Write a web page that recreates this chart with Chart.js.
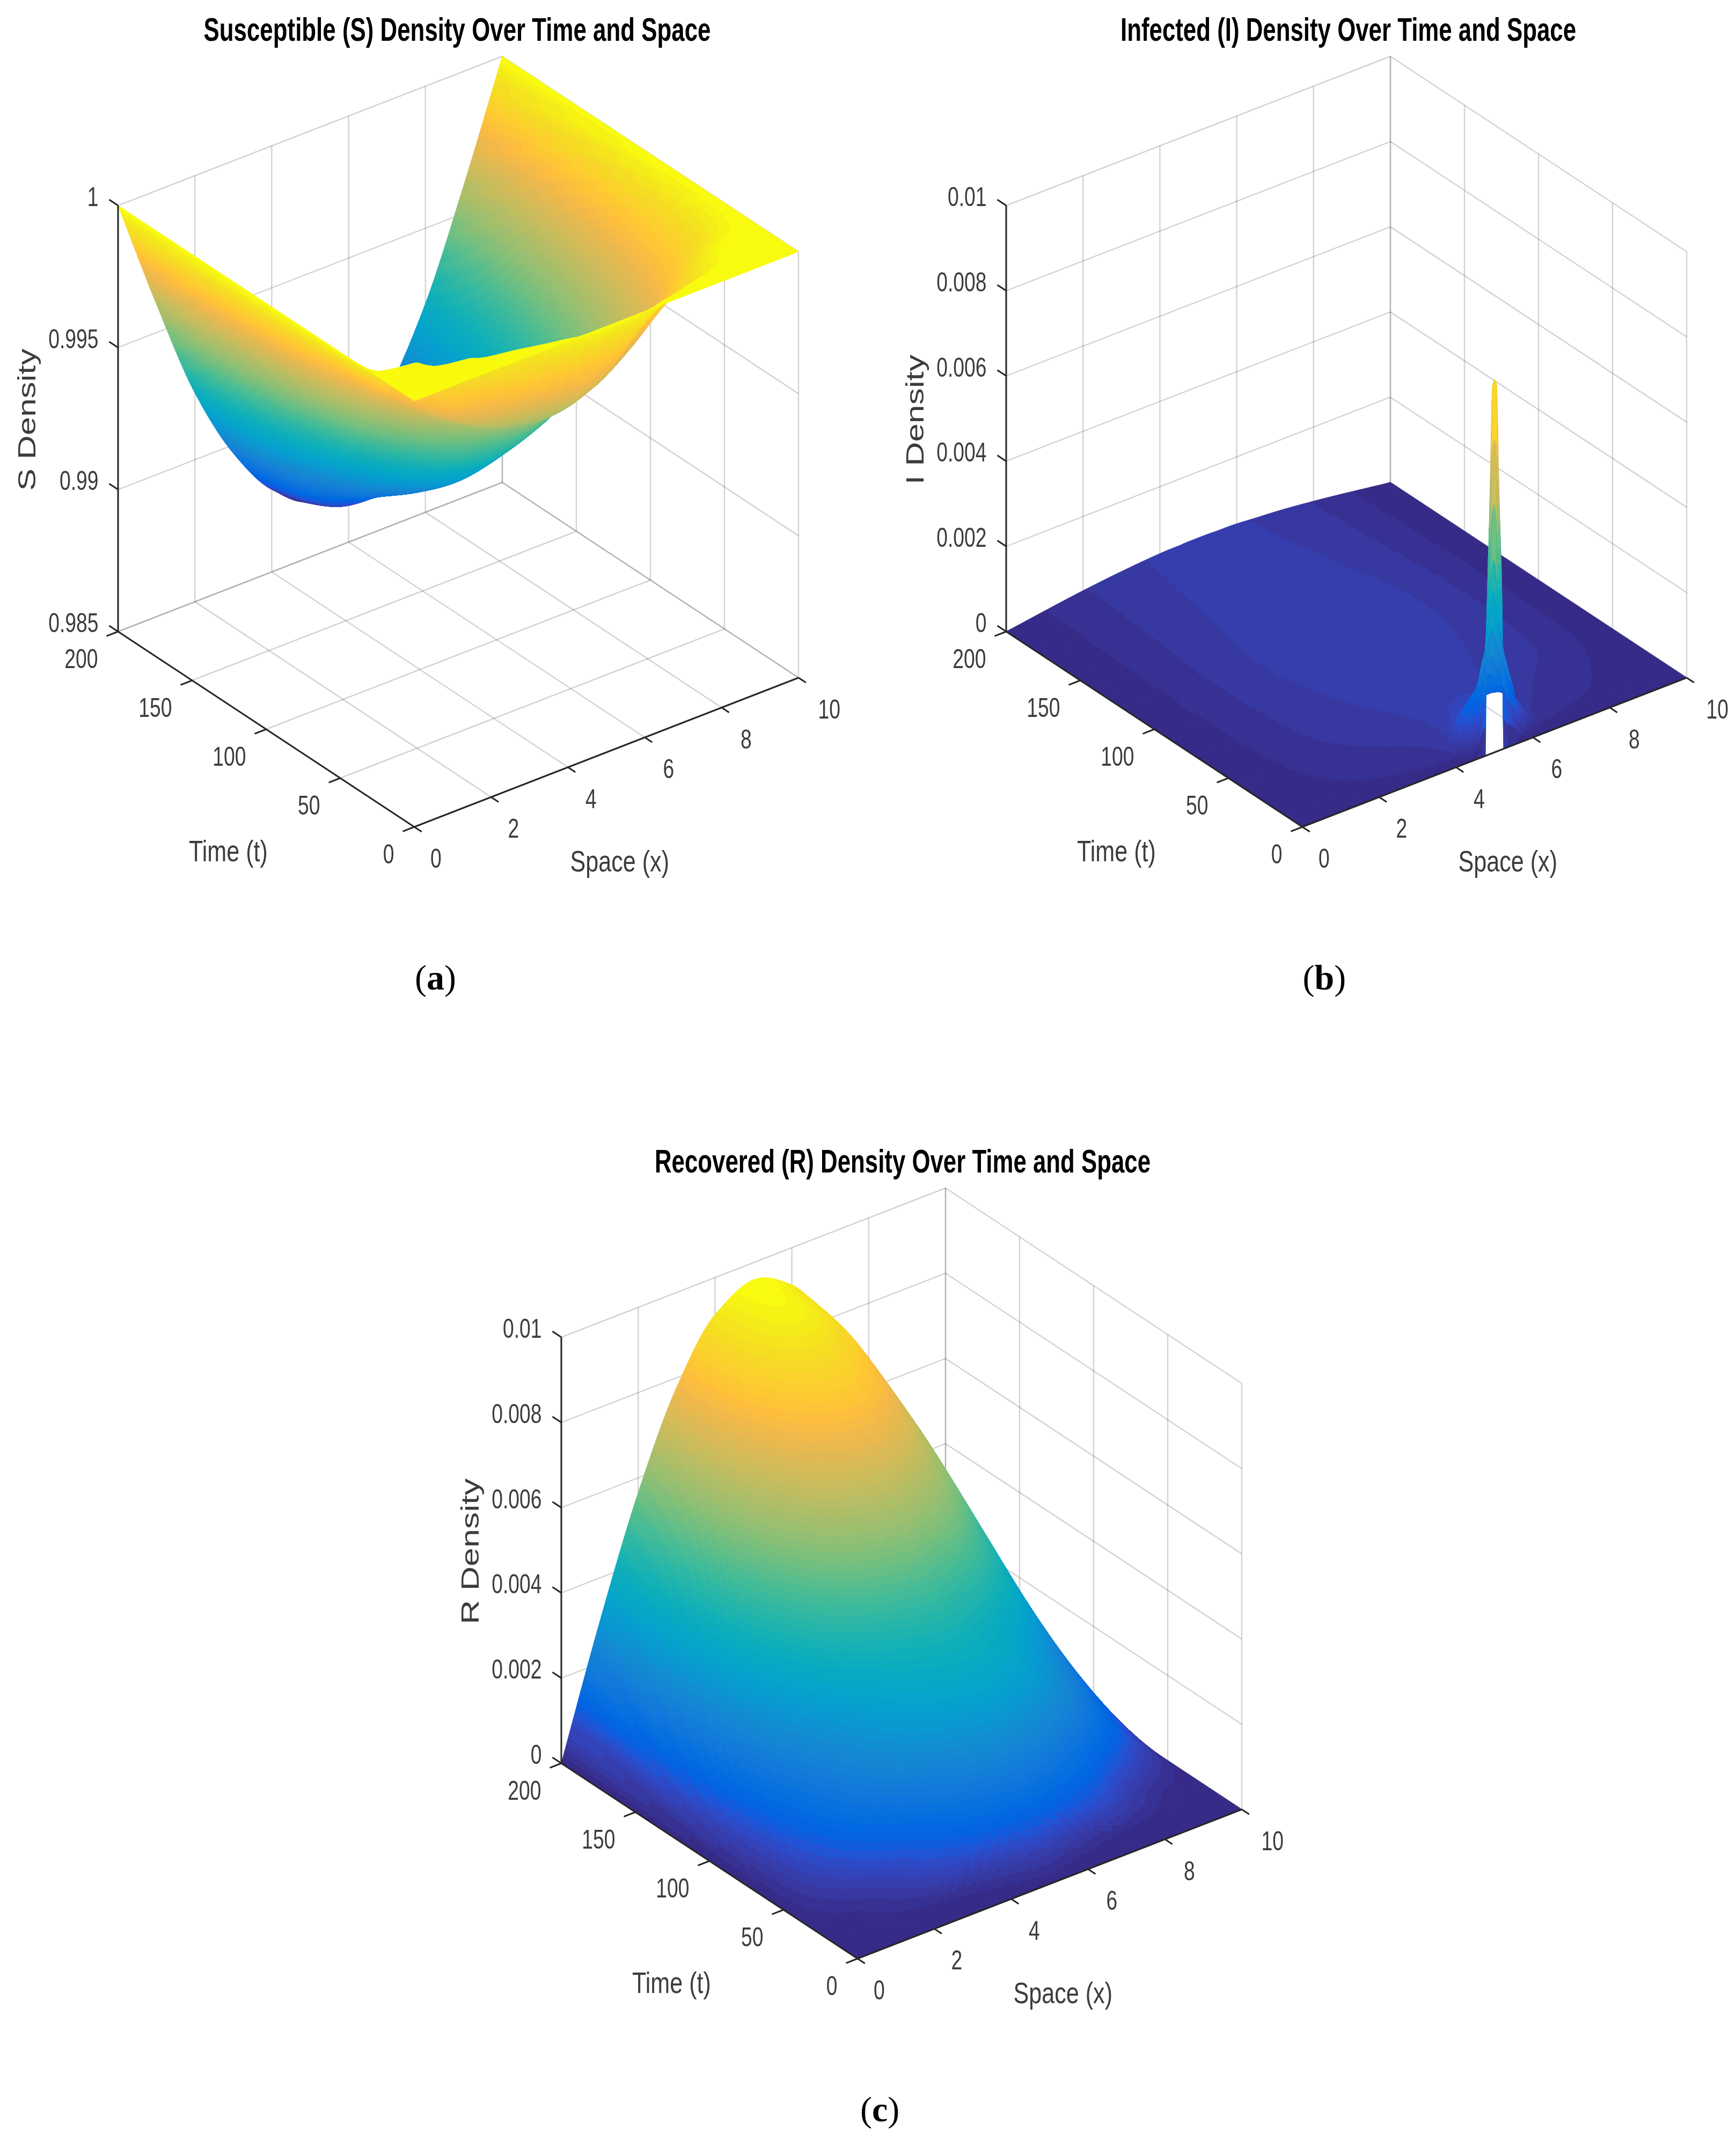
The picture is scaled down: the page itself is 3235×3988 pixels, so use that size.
<!DOCTYPE html>
<html>
<head>
<meta charset="utf-8">
<title>S I R density surfaces</title>
<style>
  html, body { margin: 0; padding: 0; background: #fff; }
  #page { position: relative; width: 3235px; height: 3988px; overflow: hidden; }
  canvas { position: absolute; }
</style>
<script src="https://cdn.jsdelivr.net/npm/chart.js@4/dist/chart.umd.min.js"></script>
</head>
<body>
<div id="page">
  <canvas id="panelS" width="1640" height="1880" style="left:0;top:0"></canvas>
  <canvas id="panelI" width="1580" height="1880" style="left:1655px;top:0"></canvas>
  <canvas id="panelR" width="1640" height="1879" style="left:826px;top:2109px"></canvas>
</div>
<script>
// axis ticks
const xTicks = [0, 2, 4, 6, 8, 10];
const tTicks = [0, 50, 100, 150, 200];
const xTickLabels = ['0', '2', '4', '6', '8', '10'];
const tTickLabels = ['0', '50', '100', '150', '200'];
const sTicks = [0.985, 0.99, 0.995, 1];
const sTickLabels = ['0.985', '0.99', '0.995', '1'];
const densityTicks = [0, 0.002, 0.004, 0.006, 0.008, 0.01];
const densityTickLabels = ['0', '0.002', '0.004', '0.006', '0.008', '0.01'];

// grid the S and R surfaces were read on
const xNodes = [0, 1, 2, 3, 4, 5, 6, 7, 8, 9, 10];
const tNodes = [0, 5, 10, 15, 20, 25, 35, 50, 75, 100, 125, 150, 175, 200];

// one row per tNodes entry
const sValues = [
  [1, 1, 1, 1, 1, 1, 1, 1, 1, 1, 1],
  [1, 1, 1, 1, 0.99985, 0.9995, 0.99965, 0.9999, 1, 1, 1],
  [1, 1, 0.99999, 0.99985, 0.999, 0.9984, 0.9988, 0.99955, 0.9999, 1, 1],
  [1, 1, 0.99992, 0.9986, 0.9977, 0.9974, 0.9981, 0.99925, 0.9996, 1, 1],
  [1, 0.99997, 0.9991, 0.9977, 0.9971, 0.9968, 0.9975, 0.99895, 0.9992, 0.99997, 1],
  [1, 0.99994, 0.9979, 0.9971, 0.9966, 0.9964, 0.9970, 0.9984, 0.9989, 0.9999, 1],
  [1, 0.9989, 0.9973, 0.9964, 0.9959, 0.9957, 0.9961, 0.9970, 0.9983, 0.9995, 1],
  [1, 0.9983, 0.9969, 0.9959, 0.9951, 0.9948, 0.9952, 0.9960, 0.9971, 0.9987, 1],
  [1, 0.9979, 0.9960, 0.9944, 0.9932, 0.9928, 0.9932, 0.9945, 0.9960, 0.9979, 1],
  [1, 0.99735, 0.99495, 0.9930, 0.9917, 0.9911, 0.9917, 0.9930, 0.99495, 0.99735, 1],
  [1, 0.9969, 0.9941, 0.9919, 0.9905, 0.9899, 0.9905, 0.9919, 0.9941, 0.9969, 1],
  [1, 0.9965, 0.9933, 0.9909, 0.9894, 0.9889, 0.9894, 0.9909, 0.9933, 0.9965, 1],
  [1, 0.99615, 0.9927, 0.9901, 0.9884, 0.9877, 0.9884, 0.9901, 0.9927, 0.99615, 1],
  [1, 0.9960, 0.99235, 0.9897, 0.9879, 0.9870, 0.9879, 0.9897, 0.99235, 0.9960, 1]
];

const rValues = [
  [0, 0, 0, 0, 0, 0, 0, 0, 0, 0, 0],
  [0, 0, 0, 0.00001, 0.0001, 0.0003, 0.0001, 0.00001, 0, 0, 0],
  [0, 0, 0.00002, 0.00012, 0.00045, 0.0008, 0.00045, 0.00012, 0.00002, 0, 0],
  [0, 0.00003, 0.0002, 0.0007, 0.0011, 0.0013, 0.0011, 0.0007, 0.0002, 0.00003, 0],
  [0, 0.00007, 0.0004, 0.001, 0.0015, 0.0018, 0.0015, 0.001, 0.0004, 0.00007, 0],
  [0, 0.00012, 0.00055, 0.0013, 0.0019, 0.0022, 0.0019, 0.0013, 0.00055, 0.00012, 0],
  [0, 0.0004, 0.0011, 0.0019, 0.0026, 0.0029, 0.0026, 0.0019, 0.0011, 0.0004, 0],
  [0, 0.0009, 0.0019, 0.0028, 0.0034, 0.0036, 0.0034, 0.0028, 0.0019, 0.0009, 0],
  [0, 0.0014, 0.00265, 0.00365, 0.0043, 0.00455, 0.0043, 0.00365, 0.00265, 0.0014, 0],
  [0, 0.0019, 0.0036, 0.005, 0.00585, 0.00615, 0.00585, 0.005, 0.0036, 0.0019, 0],
  [0, 0.00237, 0.0045, 0.0062, 0.0073, 0.0077, 0.0073, 0.0062, 0.0045, 0.00237, 0],
  [0, 0.0027, 0.00515, 0.00705, 0.0083, 0.00874, 0.0083, 0.00705, 0.00515, 0.0027, 0],
  [0, 0.0029, 0.0055, 0.0076, 0.00895, 0.0094, 0.00895, 0.0076, 0.0055, 0.0029, 0],
  [0, 0.00297, 0.00565, 0.00777, 0.00913, 0.0096, 0.00913, 0.00777, 0.00565, 0.00297, 0]
];

// I has a narrow spike at x = 5, t = 0 so its grid is tighter there
const iXNodes = [0, 2, 3, 4, 4.3, 4.5, 4.7, 4.76, 4.8, 4.88, 4.945, 5, 5.055, 5.12, 5.2, 5.24, 5.5, 5.7, 6, 6.4, 7, 8, 10];
const iTNodes = [0, 1, 5, 10, 20, 30, 50, 75, 100, 150, 200];
// in units of 0.001
const iValues = [
  [0, 0, 0, 0, 0, 0, 0, 0, 3.2, 6.0, 8.6, 8.75, 8.6, 6.0, 3.4, 0, 0, 0, 0, 0, 0, 0, 0],
  [0, 0.03, 0.05, 0.1, 0.3, 0.6, 1.9, 2.3, 2.5, 3.2, 3.6, 3.8, 3.6, 3.2, 2.6, 2.4, 1.4, 0.6, 0.1, 0.03, 0.02, 0.01, 0],
  [0, 0.1, 0.14, 0.3, 0.9, 1.2, 1.45, 1.45, 1.45, 1.4, 1.37, 1.35, 1.34, 1.32, 1.28, 1.25, 1.15, 0.95, 0.5, 0.18, 0.12, 0.08, 0],
  [0, 0.13, 0.18, 0.32, 0.6, 0.85, 1.05, 1.05, 1.05, 1.05, 1.05, 1.05, 1.06, 1.08, 1.08, 1.08, 1.05, 0.95, 0.55, 0.25, 0.17, 0.12, 0],
  [0, 0.18, 0.25, 0.36, 0.44, 0.5, 0.58, 0.6, 0.62, 0.64, 0.65, 0.66, 0.67, 0.68, 0.7, 0.72, 0.72, 0.72, 0.6, 0.35, 0.24, 0.16, 0],
  [0, 0.22, 0.3, 0.4, 0.44, 0.46, 0.5, 0.51, 0.52, 0.53, 0.53, 0.54, 0.54, 0.54, 0.55, 0.55, 0.54, 0.53, 0.48, 0.37, 0.29, 0.2, 0],
  [0, 0.27, 0.37, 0.44, 0.46, 0.47, 0.47, 0.47, 0.47, 0.47, 0.47, 0.47, 0.47, 0.47, 0.47, 0.47, 0.47, 0.46, 0.44, 0.41, 0.37, 0.27, 0],
  [0, 0.29, 0.4, 0.47, 0.49, 0.49, 0.5, 0.5, 0.5, 0.5, 0.5, 0.5, 0.5, 0.5, 0.5, 0.5, 0.49, 0.49, 0.47, 0.44, 0.4, 0.29, 0],
  [0, 0.3, 0.42, 0.49, 0.51, 0.51, 0.52, 0.52, 0.52, 0.52, 0.52, 0.52, 0.52, 0.52, 0.52, 0.52, 0.51, 0.51, 0.49, 0.46, 0.42, 0.3, 0],
  [0, 0.28, 0.39, 0.46, 0.47, 0.47, 0.48, 0.48, 0.48, 0.48, 0.48, 0.48, 0.48, 0.48, 0.48, 0.48, 0.47, 0.47, 0.46, 0.43, 0.39, 0.28, 0],
  [0, 0.26, 0.36, 0.43, 0.44, 0.44, 0.45, 0.45, 0.45, 0.45, 0.45, 0.45, 0.45, 0.45, 0.45, 0.45, 0.44, 0.44, 0.43, 0.4, 0.36, 0.26, 0]
];
const iUnit = 0.001;

const parula = [
  [.2081,.1663,.5292],[.2116,.1898,.5777],[.2123,.2138,.6270],[.2081,.2386,.6771],
  [.1959,.2645,.7279],[.1707,.2919,.7792],[.1253,.3242,.8303],[.0591,.3598,.8683],
  [.0117,.3875,.8820],[.0060,.4086,.8828],[.0165,.4266,.8786],[.0329,.4430,.8720],
  [.0498,.4586,.8641],[.0629,.4737,.8554],[.0723,.4887,.8467],[.0779,.5040,.8384],
  [.0793,.5200,.8312],[.0749,.5375,.8263],[.0641,.5570,.8240],[.0488,.5772,.8228],
  [.0343,.5966,.8199],[.0265,.6137,.8135],[.0239,.6287,.8038],[.0231,.6418,.7913],
  [.0228,.6535,.7768],[.0267,.6642,.7607],[.0384,.6743,.7436],[.0590,.6838,.7254],
  [.0843,.6928,.7062],[.1133,.7015,.6859],[.1453,.7098,.6646],[.1801,.7177,.6424],
  [.2178,.7250,.6193],[.2586,.7317,.5954],[.3022,.7376,.5712],[.3482,.7424,.5473],
  [.3953,.7459,.5244],[.4420,.7481,.5033],[.4871,.7491,.4840],[.5300,.7491,.4661],
  [.5709,.7485,.4494],[.6099,.7473,.4337],[.6473,.7456,.4188],[.6834,.7435,.4044],
  [.7184,.7411,.3905],[.7525,.7384,.3768],[.7858,.7356,.3633],[.8185,.7327,.3498],
  [.8507,.7299,.3360],[.8824,.7274,.3217],[.9139,.7258,.3063],[.9450,.7261,.2886],
  [.9739,.7314,.2666],[.9938,.7455,.2403],[.9990,.7653,.2164],[.9955,.7861,.1967],
  [.9880,.8066,.1794],[.9789,.8271,.1633],[.9697,.8481,.1475],[.9626,.8705,.1309],
  [.9589,.8949,.1132],[.9598,.9218,.0948],[.9661,.9514,.0755],[.9763,.9831,.0538]
];
const parulaCss = parula.map(c => `rgb(${Math.round(c[0]*255)},${Math.round(c[1]*255)},${Math.round(c[2]*255)})`);

const xMax = 10, tMax = 200;
// the oblique view of the MATLAB box, in scale units
const view = { ox: 772, oy: 1541, xx: 716, xy: -278, tx: -552, ty: -364, zy: 794 };

function project(x, t, zFrac) {
  return {
    x: view.ox + x / xMax * view.xx + t / tMax * view.tx,
    y: view.oy + x / xMax * view.xy + t / tMax * view.ty - zFrac * view.zy
  };
}

// monotone cubic through the read nodes, only used to shade between them
function shadeCurve(xs, ys) {
  const n = xs.length, h = [], dl = [], d = new Array(n);
  for (let i = 0; i < n - 1; i++) {
    h[i] = xs[i + 1] - xs[i];
    dl[i] = (ys[i + 1] - ys[i]) / h[i];
  }
  d[0] = dl[0];
  d[n - 1] = dl[n - 2];
  for (let i = 1; i < n - 1; i++) {
    if (dl[i - 1] * dl[i] <= 0) { d[i] = 0; continue; }
    const w1 = 2 * h[i] + h[i - 1], w2 = h[i] + 2 * h[i - 1];
    d[i] = (w1 + w2) / (w1 / dl[i - 1] + w2 / dl[i]);
  }
  return q => {
    let i = 0;
    while (i < n - 2 && q > xs[i + 1]) i++;
    const s = (q - xs[i]) / h[i], s2 = s * s, s3 = s2 * s;
    return (2*s3 - 3*s2 + 1) * ys[i] + (s3 - 2*s2 + s) * h[i] * d[i]
      + (-2*s3 + 3*s2) * ys[i + 1] + (s3 - s2) * h[i] * d[i + 1];
  };
}

function fineNodes(nodes, step) {
  const out = [];
  for (let i = 0; i < nodes.length - 1; i++) {
    const n = Math.max(4, Math.ceil((nodes[i + 1] - nodes[i]) / step));
    for (let k = 0; k < n; k++) out.push(nodes[i] + (nodes[i + 1] - nodes[i]) * k / n);
  }
  out.push(nodes[nodes.length - 1]);
  return out;
}

// draws a z grid as a shaded sheet, far cells first
class SurfaceController extends Chart.ScatterController {
  draw() {
    const ds = this.getDataset();
    const { xScale, yScale } = this.getMeta();
    const ctx = this.chart.ctx;
    const fx = fineNodes(ds.xNodes, xMax / 220);
    const ft = fineNodes(ds.tNodes, tMax / 220);
    // along t first, then along x
    const columns = ds.xNodes.map((_, c) => {
      const f = shadeCurve(ds.tNodes, ds.zRows.map(r => r[c]));
      return ft.map(f);
    });
    const grid = ft.map((_, j) => {
      const f = shadeCurve(ds.xNodes, columns.map(col => col[j]));
      return fx.map(f);
    });
    const span = ds.zMax - ds.zMin;
    const px = [], py = [];
    ft.forEach((t, j) => {
      px[j] = []; py[j] = [];
      fx.forEach((x, i) => {
        const p = project(x, t, (grid[j][i] - ds.axisMin) / ds.axisSpan);
        px[j][i] = xScale.getPixelForValue(p.x);
        py[j][i] = yScale.getPixelForValue(p.y);
      });
    });
    ctx.save();
    ctx.lineWidth = 1;
    ctx.lineJoin = 'round';
    for (let i = fx.length - 2; i >= 0; i--) {
      for (let j = ft.length - 2; j >= 0; j--) {
        const z = (grid[j][i] + grid[j][i + 1] + grid[j + 1][i] + grid[j + 1][i + 1]) / 4;
        const level = Math.max(0, Math.min(63, Math.floor((z - ds.zMin) / span * 64)));
        ctx.fillStyle = ctx.strokeStyle = parulaCss[level];
        ctx.beginPath();
        ctx.moveTo(px[j][i], py[j][i]);
        ctx.lineTo(px[j][i + 1], py[j][i + 1]);
        ctx.lineTo(px[j + 1][i + 1], py[j + 1][i + 1]);
        ctx.lineTo(px[j + 1][i], py[j + 1][i]);
        ctx.closePath();
        ctx.fill();
        ctx.stroke();
      }
    }
    ctx.restore();
  }
}
SurfaceController.id = 'surface';
SurfaceController.defaults = Chart.ScatterController.defaults;
Chart.register(SurfaceController);

function lineSet(a, b, color, width, order) {
  return { type: 'scatter', data: [a, b], showLine: true, pointRadius: 0, borderColor: color, borderWidth: width, order: order, borderCapStyle: 'butt' };
}

function drawText(ctx, text, x, y, squeeze, align, angle) {
  const w = ctx.measureText(text).width;
  ctx.save();
  ctx.translate(x, y);
  ctx.rotate(angle || 0);
  ctx.scale(squeeze, 1);
  ctx.textAlign = 'left';
  ctx.textBaseline = 'alphabetic';
  const left = align === 'right' ? -w : align === 'center' ? -w / 2 : 0;
  ctx.fillText(text, left, 0);
  ctx.restore();
}

const gridColor = 'rgba(0,0,0,0.17)';
const axisColor = '#262626';
const tickColor = '#3c3c3c';

function makePanel(p) {
  const zAt = z => (z - p.zTicks[0]) / (p.zTicks[p.zTicks.length - 1] - p.zTicks[0]);
  const sets = [];
  const gw = 2.5;
  xTicks.forEach(x => {
    sets.push(lineSet(project(x, 0, 0), project(x, tMax, 0), gridColor, gw, 3));
    sets.push(lineSet(project(x, tMax, 0), project(x, tMax, 1), gridColor, gw, 3));
  });
  tTicks.forEach(t => {
    sets.push(lineSet(project(0, t, 0), project(xMax, t, 0), gridColor, gw, 3));
    sets.push(lineSet(project(xMax, t, 0), project(xMax, t, 1), gridColor, gw, 3));
  });
  p.zTicks.forEach(z => {
    sets.push(lineSet(project(0, tMax, zAt(z)), project(xMax, tMax, zAt(z)), gridColor, gw, 3));
    sets.push(lineSet(project(xMax, tMax, zAt(z)), project(xMax, 0, zAt(z)), gridColor, gw, 3));
  });

  // raw grid points of the sheet
  const nodes = [];
  p.tNodes.forEach((t, j) => p.xNodes.forEach((x, i) => nodes.push(project(x, t, zAt(p.zRows[j][i])))));
  const flat = p.zRows.flat();
  sets.push({
    type: 'surface', data: nodes, order: 2, pointRadius: 0,
    xNodes: p.xNodes, tNodes: p.tNodes, zRows: p.zRows,
    zMin: Math.min(...flat), zMax: Math.max(...flat),
    axisMin: p.zTicks[0], axisSpan: p.zTicks[p.zTicks.length - 1] - p.zTicks[0]
  });

  // box axes and ticks
  sets.push(lineSet(project(0, tMax, 0), project(0, tMax, 1), axisColor, 3, 1));
  sets.push(lineSet(project(0, 0, 0), project(0, tMax, 0), axisColor, 3, 1));
  sets.push(lineSet(project(0, 0, 0), project(xMax, 0, 0), axisColor, 3, 1));
  p.zTicks.forEach(z => sets.push(lineSet(project(0, tMax, zAt(z)), project(0, tMax * 1.03, zAt(z)), axisColor, 3, 1)));
  tTicks.forEach(t => sets.push(lineSet(project(0, t, 0), project(-xMax * 0.03, t, 0), axisColor, 3, 1)));
  xTicks.forEach(x => sets.push(lineSet(project(x, 0, 0), project(x, -tMax * 0.025, 0), axisColor, 3, 1)));

  const labels = {
    id: 'labels',
    afterDraw(chart) {
      const ctx = chart.ctx, sx = chart.scales.x, sy = chart.scales.y;
      const at = q => ({ x: sx.getPixelForValue(q.x), y: sy.getPixelForValue(q.y) });
      ctx.save();
      ctx.filter = 'blur(0.7px)';
      // title
      ctx.fillStyle = '#000';
      ctx.font = 'bold 61px "Liberation Sans"';
      const tw = ctx.measureText(p.title).width;
      drawText(ctx, p.title, p.titleX, 76, p.titleWidth / tw, 'left');
      // ticks
      ctx.fillStyle = tickColor;
      ctx.font = '50px "Liberation Sans"';
      p.zTicks.forEach((z, i) => {
        const q = at(project(0, tMax, zAt(z)));
        drawText(ctx, p.zLabels[i], q.x - 36.5, q.y + 1, 0.745, 'right');
      });
      tTicks.forEach((t, i) => {
        const q = at(project(0, t, 0));
        drawText(ctx, tTickLabels[i], q.x - 37.5, q.y + 67.5, 0.745, 'right');
      });
      xTicks.forEach((x, i) => {
        const q = at(project(x, 0, 0));
        drawText(ctx, xTickLabels[i], q.x + 30 + 0.65 * x, q.y + 76, 0.745, 'left');
      });
      // axis names
      ctx.font = '56px "Liberation Sans"';
      drawText(ctx, 'Time (t)', 352, 1605, 0.77, 'left');
      drawText(ctx, 'Space (x)', 1062.5, 1624, 0.77, 'left');
      ctx.font = '46px "Liberation Sans"';
      const zw = ctx.measureText(p.zName).width;
      drawText(ctx, p.zName, 66, 782, p.zNameLength / zw, 'center', -Math.PI / 2);
      // caption
      ctx.filter = 'none';
      ctx.fillStyle = '#000';
      let cx = p.captionX;
      ctx.font = '66px "Liberation Serif"';
      ctx.textAlign = 'left';
      ctx.fillText('(', cx, 1844);
      cx += ctx.measureText('(').width;
      ctx.font = 'bold 66px "Liberation Serif"';
      ctx.fillText(p.caption, cx, 1844);
      cx += ctx.measureText(p.caption).width;
      ctx.font = '66px "Liberation Serif"';
      ctx.fillText(')', cx, 1844);
      ctx.restore();
    }
  };

  const canvas = document.getElementById(p.canvas);
  return new Chart(canvas, {
    type: 'scatter',
    data: { datasets: sets },
    options: {
      responsive: false,
      animation: false,
      events: [],
      layout: { padding: 0 },
      plugins: { legend: { display: false }, tooltip: { enabled: false } },
      scales: {
        x: { type: 'linear', display: false, min: 0, max: canvas.width },
        y: { type: 'linear', display: false, min: 0, max: canvas.height, reverse: true }
      }
    },
    plugins: [labels]
  });
}

makePanel({
  canvas: 'panelS', title: 'Susceptible (S) Density Over Time and Space', titleX: 379.5, titleWidth: 945,
  zName: 'S Density', zNameLength: 265, caption: 'a', captionX: 773,
  zTicks: sTicks, zLabels: sTickLabels, xNodes: xNodes, tNodes: tNodes, zRows: sValues
});
makePanel({
  canvas: 'panelI', title: 'Infected (I) Density Over Time and Space', titleX: 433, titleWidth: 849,
  zName: 'I Density', zNameLength: 242, caption: 'b', captionX: 772.5,
  zTicks: densityTicks, zLabels: densityTickLabels, xNodes: iXNodes, tNodes: iTNodes,
  zRows: iValues.map(r => r.map(v => v * iUnit))
});
makePanel({
  canvas: 'panelR', title: 'Recovered (R) Density Over Time and Space', titleX: 394, titleWidth: 924,
  zName: 'R Density', zNameLength: 272, caption: 'c', captionX: 777,
  zTicks: densityTicks, zLabels: densityTickLabels, xNodes: xNodes, tNodes: tNodes, zRows: rValues
});
</script>
</body>
</html>
